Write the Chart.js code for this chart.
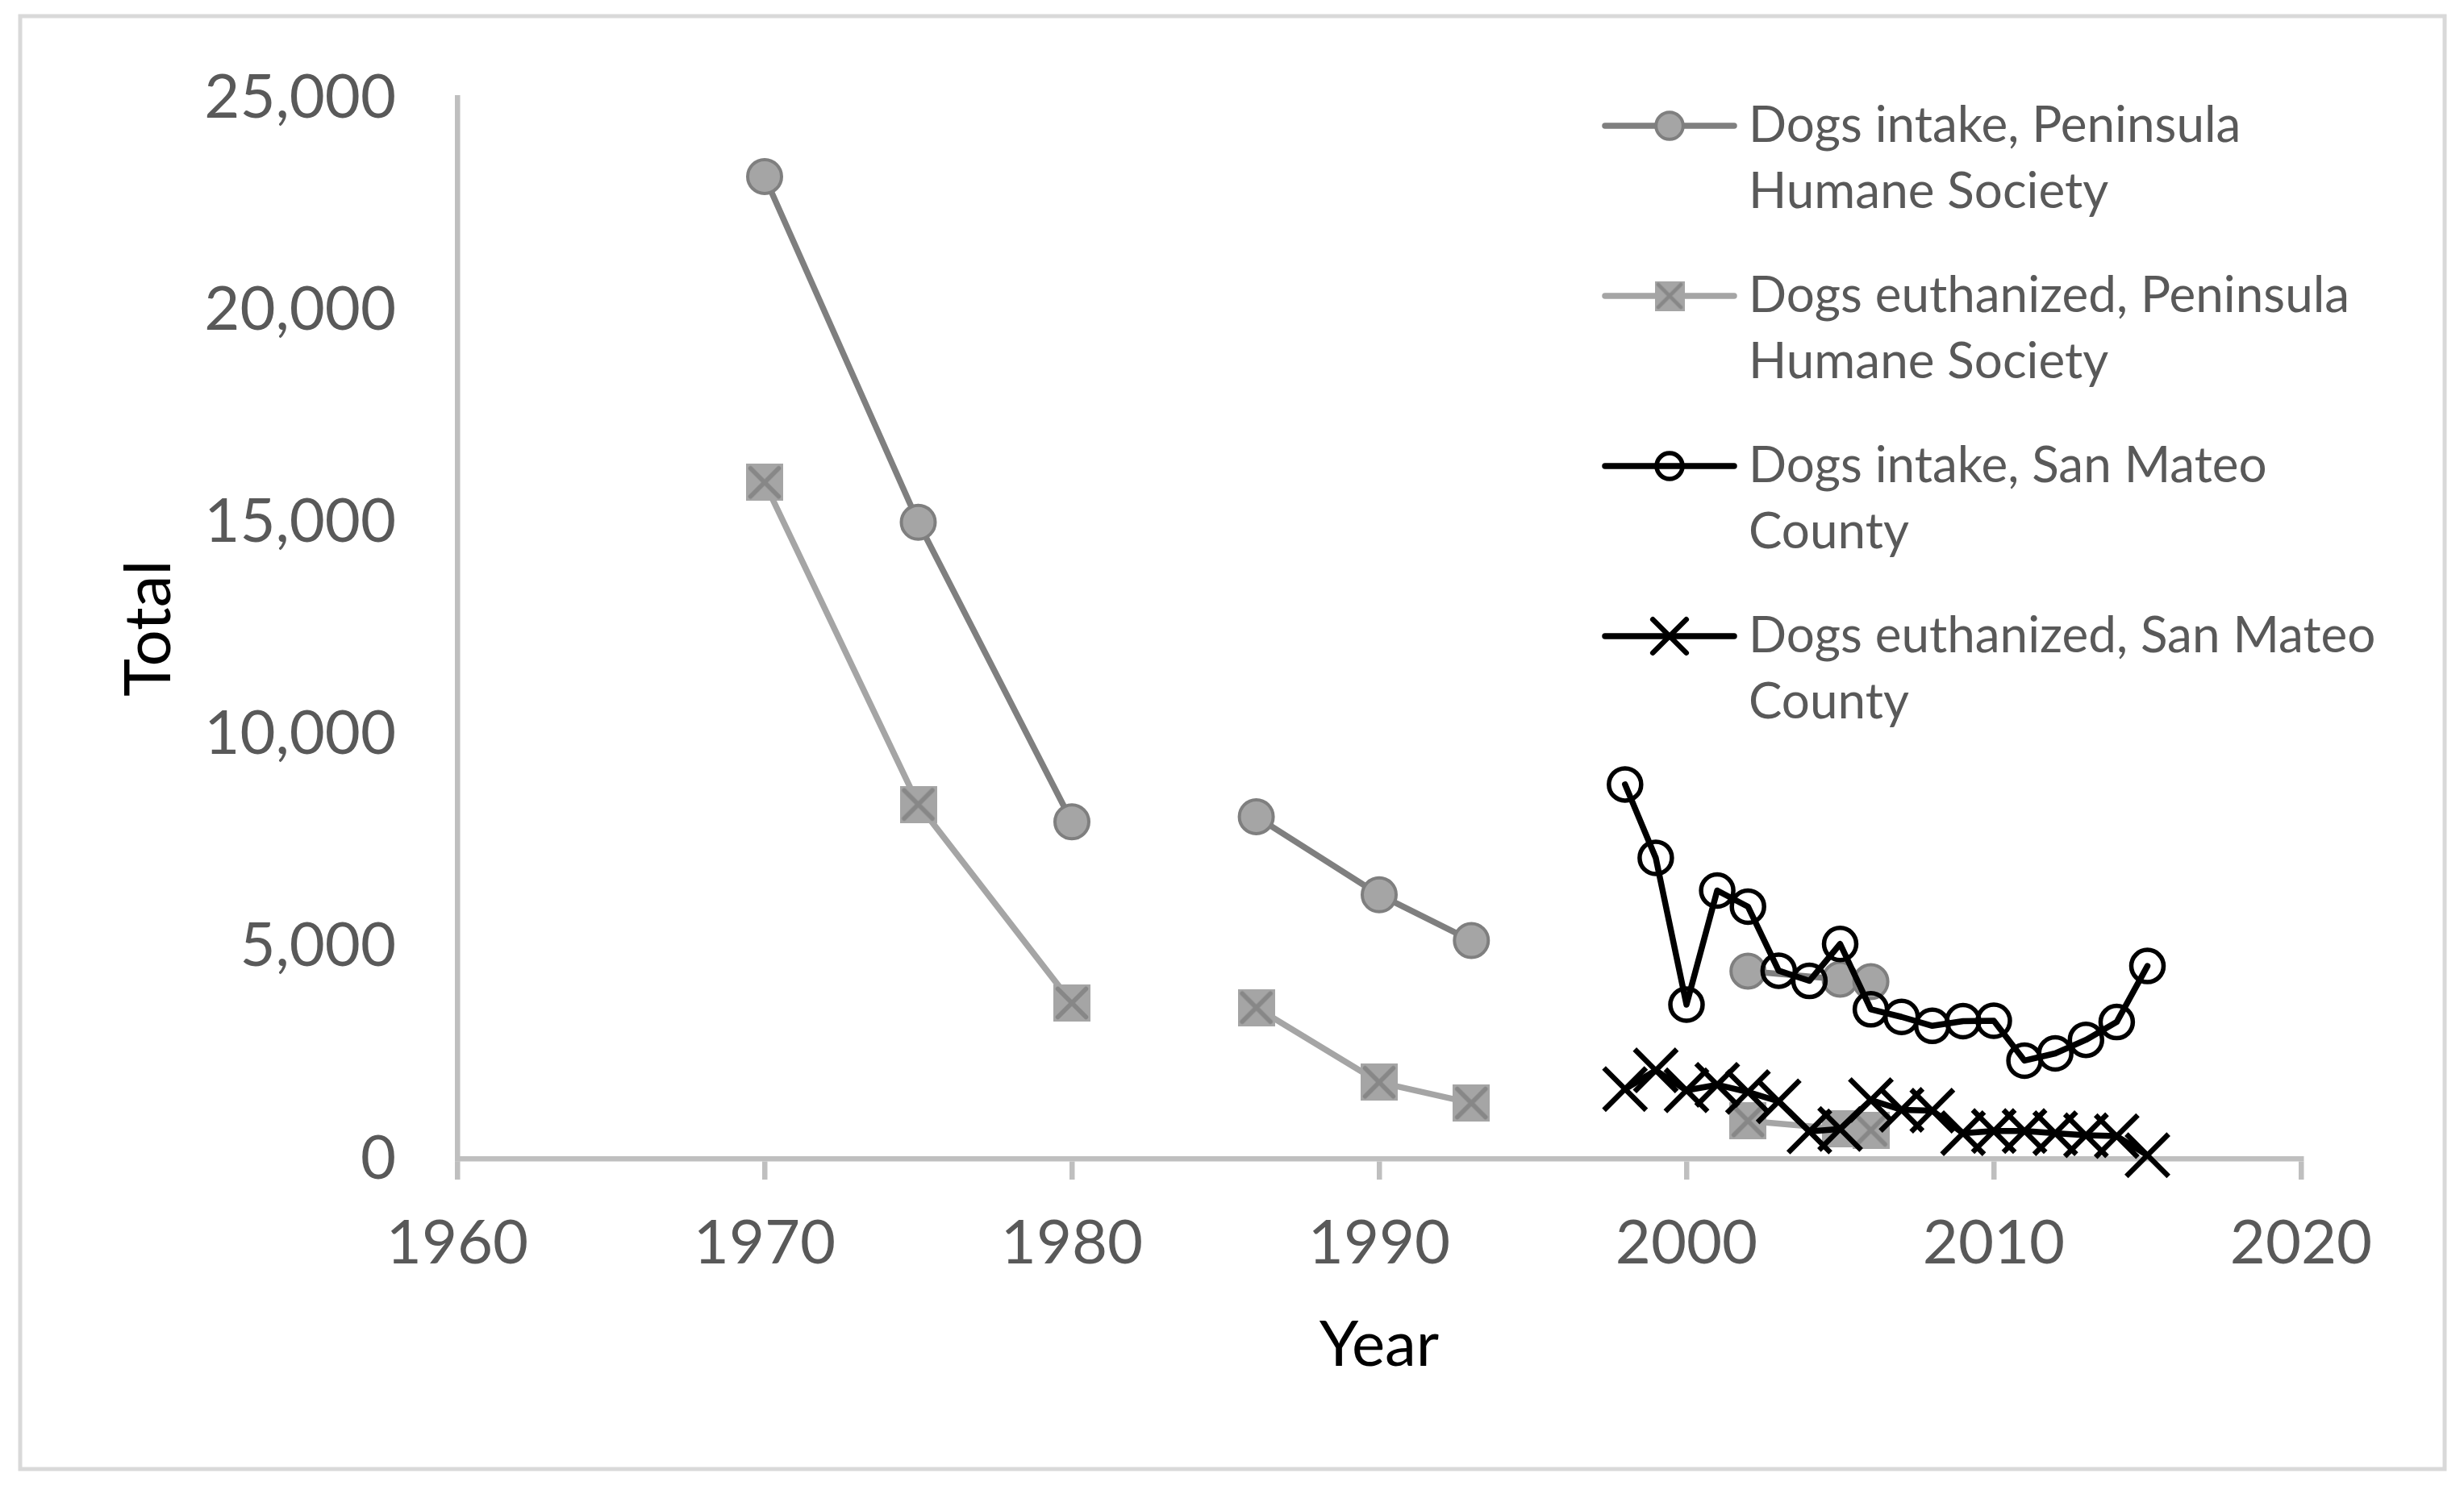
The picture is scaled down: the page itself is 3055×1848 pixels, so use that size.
<!DOCTYPE html>
<html>
<head>
<meta charset="utf-8">
<title>Dogs intake and euthanized</title>
<script src="https://cdn.jsdelivr.net/npm/chart.js@4.4.1/dist/chart.umd.min.js"></script>
<style>
  html, body { margin: 0; padding: 0; background: #fff; }
  canvas { display: block; }
</style>
</head>
<body>
<canvas id="chart" width="3055" height="1848"></canvas>
<script>
// Peninsula Humane Society (years with data, line broken after the years in phsBreaks)
const phsYears = [1970, 1975, 1980, 1986, 1990, 1993, 2002, 2005, 2006];
const phsIntake = [23150, 15000, 7940, 8060, 6220, 5140, 4420, 4230, 4170];
const phsEuthanized = [15940, 8350, 3670, 3560, 1800, 1310, 890, 700, 670];
const phsBreaks = [1980, 1993];

// San Mateo County
const smYears = [1998, 1999, 2000, 2001, 2002, 2003, 2004, 2005, 2006,
                 2007, 2008, 2009, 2010, 2011, 2012, 2013, 2014, 2015];
const smIntake = [8820, 7090, 3630, 6320, 5940, 4430, 4190, 5060, 3520,
                  3340, 3130, 3240, 3250, 2310, 2480, 2800, 3220, 4540];
const smEuthanized = [1640, 2080, 1610, 1740, 1570, 1350, 640, 700, 1380,
                      1150, 1130, 600, 650, 650, 600, 550, 530, 80];

const seriesNames = [
  ['Dogs intake, Peninsula', 'Humane Society'],
  ['Dogs euthanized, Peninsula', 'Humane Society'],
  ['Dogs intake, San Mateo', 'County'],
  ['Dogs euthanized, San Mateo', 'County']
];

const xTicks = [1960, 2020, 10];
const yTicks = [0, 25000, 5000];

const FONT = 'Lato, Carlito, Calibri, sans-serif';
const TEXT_GREY = '#595959';
const AXIS_GREY = '#bfbfbf';
const LINE_W = 7.5;

function pairs(xs, ys) {
  return xs.map((x, i) => ({ x: x, y: ys[i] }));
}

// square with an x inside, used for the PHS euthanized series
function squareX(size) {
  const c = document.createElement('canvas');
  c.width = size;
  c.height = size;
  const g = c.getContext('2d');
  g.fillStyle = '#a5a5a5';
  g.fillRect(0, 0, size, size);
  g.strokeStyle = '#878787';
  g.lineWidth = size * 0.12;
  g.lineCap = 'round';
  const m = size * 0.12;
  g.beginPath();
  g.moveTo(m, m); g.lineTo(size - m, size - m);
  g.moveTo(size - m, m); g.lineTo(m, size - m);
  g.stroke();
  return c;
}

const squareBig = squareX(46);
const squareSmall = squareX(37);

const breakSegment = {
  borderColor: ctx => phsBreaks.includes(ctx.p0.parsed.x) ? 'rgba(0,0,0,0)' : undefined
};

const frame = {
  id: 'frame',
  beforeDraw(chart) {
    const ctx = chart.ctx;
    ctx.save();
    ctx.fillStyle = '#fff';
    ctx.fillRect(0, 0, chart.width, chart.height);
    ctx.strokeStyle = '#d9d9d9';
    ctx.lineWidth = 5;
    ctx.strokeRect(25, 20, 3006, 1802);
    ctx.restore();
  }
};

function drawMarker(ctx, i, x, y, k) {
  ctx.save();
  if (i === 0) {
    ctx.beginPath();
    ctx.arc(x, y, 21 * k, 0, Math.PI * 2);
    ctx.fillStyle = '#a5a5a5';
    ctx.fill();
    ctx.lineWidth = 4;
    ctx.strokeStyle = '#7f7f7f';
    ctx.stroke();
  } else if (i === 1) {
    const img = k < 1 ? squareSmall : squareBig;
    ctx.drawImage(img, x - img.width / 2, y - img.height / 2);
  } else if (i === 2) {
    ctx.beginPath();
    ctx.arc(x, y, 20 * k, 0, Math.PI * 2);
    ctx.lineWidth = 5.5;
    ctx.strokeStyle = '#000';
    ctx.stroke();
  } else {
    const h = 26 * k;
    ctx.beginPath();
    ctx.moveTo(x - h, y - h); ctx.lineTo(x + h, y + h);
    ctx.moveTo(x + h, y - h); ctx.lineTo(x - h, y + h);
    ctx.lineWidth = 6.5;
    ctx.strokeStyle = '#000';
    ctx.stroke();
  }
  ctx.restore();
}

const sideLegend = {
  id: 'sideLegend',
  afterDraw(chart) {
    const ctx = chart.ctx;
    const lineColors = ['#7f7f7f', '#a5a5a5', '#000', '#000'];
    ctx.save();
    ctx.font = '62px ' + FONT;
    ctx.fillStyle = TEXT_GREY;
    ctx.textBaseline = 'middle';
    ctx.textAlign = 'left';
    seriesNames.forEach((lines, i) => {
      const y = 156 + i * 211;
      ctx.beginPath();
      ctx.moveTo(1990, y);
      ctx.lineTo(2150, y);
      ctx.lineWidth = LINE_W;
      ctx.lineCap = 'round';
      ctx.strokeStyle = lineColors[i];
      ctx.stroke();
      drawMarker(ctx, i, 2070, y, 0.8);
      ctx.fillStyle = TEXT_GREY;
      lines.forEach((t, j) => ctx.fillText(t, 2168, y + j * 82));
    });
    ctx.restore();
  }
};

new Chart(document.getElementById('chart'), {
  type: 'line',
  data: {
    datasets: [
      {
        label: seriesNames[0].join(' '),
        data: pairs(phsYears, phsIntake),
        borderColor: '#7f7f7f',
        borderWidth: LINE_W,
        pointStyle: 'circle',
        pointRadius: 21,
        pointBackgroundColor: '#a5a5a5',
        pointBorderColor: '#7f7f7f',
        pointBorderWidth: 4,
        segment: breakSegment,
        order: 4
      },
      {
        label: seriesNames[1].join(' '),
        data: pairs(phsYears, phsEuthanized),
        borderColor: '#a5a5a5',
        borderWidth: LINE_W,
        pointStyle: squareBig,
        pointRadius: 23,
        segment: breakSegment,
        order: 3
      },
      {
        label: seriesNames[2].join(' '),
        data: pairs(smYears, smIntake),
        borderColor: '#000',
        borderWidth: LINE_W,
        pointStyle: 'circle',
        pointRadius: 20,
        pointBackgroundColor: 'rgba(0,0,0,0)',
        pointBorderColor: '#000',
        pointBorderWidth: 5.5,
        order: 2
      },
      {
        label: seriesNames[3].join(' '),
        data: pairs(smYears, smEuthanized),
        borderColor: '#000',
        borderWidth: LINE_W,
        pointStyle: 'crossRot',
        pointRadius: 37,
        pointBorderColor: '#000',
        pointBorderWidth: 6.5,
        order: 1
      }
    ]
  },
  options: {
    responsive: false,
    animation: false,
    devicePixelRatio: 1,
    clip: false,
    layout: { padding: { left: 0, top: 115, right: 202, bottom: 0 } },
    elements: { line: { tension: 0, borderJoinStyle: 'round', borderCapStyle: 'round' } },
    plugins: { legend: { display: false }, tooltip: { enabled: false } },
    scales: {
      x: {
        type: 'linear',
        min: xTicks[0],
        max: xTicks[1],
        afterFit: s => { s.height = 411; },
        ticks: {
          stepSize: xTicks[2],
          color: TEXT_GREY,
          padding: 34,
          font: { family: FONT, size: 76, lineHeight: 1.2 },
          callback: v => String(v)
        },
        grid: {
          drawOnChartArea: false,
          drawTicks: true,
          tickLength: 26,
          color: AXIS_GREY,
          lineWidth: 6.5
        },
        border: { color: AXIS_GREY, width: 6.5 },
        title: {
          display: true,
          text: 'Year',
          color: '#000',
          font: { family: FONT, size: 78, lineHeight: 1.2 },
          padding: { top: 0, bottom: 132 }
        }
      },
      y: {
        type: 'linear',
        min: yTicks[0],
        max: yTicks[1],
        afterFit: s => { s.width = 567; },
        ticks: {
          stepSize: yTicks[2],
          color: TEXT_GREY,
          padding: 76,
          font: { family: FONT, size: 76, lineHeight: 1.2 },
          callback: v => v.toLocaleString('en-US')
        },
        grid: { drawOnChartArea: false, drawTicks: false, color: AXIS_GREY, lineWidth: 6.5 },
        border: { color: AXIS_GREY, width: 6.5 },
        title: {
          display: true,
          text: 'Total',
          color: '#000',
          font: { family: FONT, size: 80, lineHeight: 1.2 },
          padding: { top: 137, bottom: 0 }
        }
      }
    }
  },
  plugins: [frame, sideLegend]
});
</script>
</body>
</html>
